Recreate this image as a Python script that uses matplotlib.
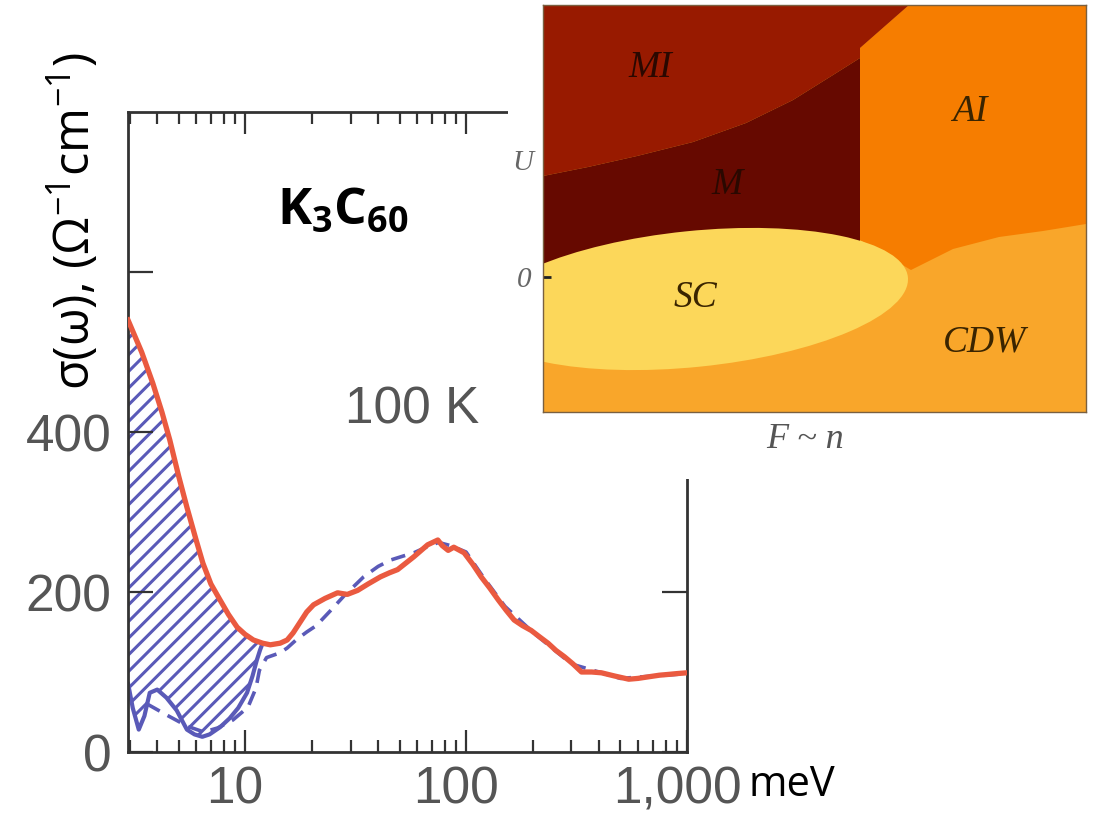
import numpy as np
import matplotlib
matplotlib.use('Agg')
import matplotlib.pyplot as plt
import matplotlib.transforms as mtransforms
from matplotlib.patches import Ellipse, Polygon
from matplotlib.ticker import FixedLocator, LogLocator, NullFormatter

# sigma(omega) at 100 K, red curve (meV, Ohm^-1 cm^-1)
red_x = [2.95, 3.4, 3.82, 4.2, 4.56, 5.0, 5.45, 6.0, 6.44, 7.0, 7.7, 8.4, 9.2, 10.0,
         10.9, 12.0, 13.0, 14.4, 15.5, 16.5, 17.8, 19.0, 20.4, 23.0, 26.2, 29.0, 32.3,
         36.0, 41.0, 45.0, 49.0, 58.0, 67.0, 74.5, 78.0, 83.0, 88.0, 98.0, 107.0, 117.0,
         128.0, 140.0, 152.0, 165.0, 180.0, 197.0, 215.0, 235.0, 255.0, 279.0, 305.0,
         333.0, 370.0, 410.0, 470.0, 545.0, 600.0, 670.0, 750.0, 825.0, 900.0, 1000.0]
red_y = [540, 500, 461, 425, 390, 345, 306, 265, 236, 210, 190, 172, 156, 147,
         140, 136, 134, 136, 140, 149, 163, 175, 184, 192, 199, 197, 202,
         210, 219, 224, 228, 244, 259, 265, 258, 252, 256, 249, 235, 219,
         205, 190, 177, 165, 158, 152, 144, 136, 127, 119, 110,
         100, 100, 99, 95, 91, 92, 94, 96, 97, 98, 99]

# blue dashed curve
dash_x = [3.6, 4.5, 5.5, 6.5, 7.5, 8.8, 10.3, 11.2, 11.6, 12.5, 14.4, 15.5, 17.0, 19.0,
          21.0, 24.4, 28.0, 34.4, 40.0, 45.6, 52.0, 58.0, 66.0, 75.0, 85.0, 100.0, 120.0,
          150.0, 200.0, 300.0, 500.0, 1000.0]
dash_y = [60, 45, 32, 25, 30, 40, 56, 80, 102, 118, 124, 130, 140, 150,
          158, 177, 195, 219, 232, 240, 245, 249, 256, 262, 258, 250, 218,
          182, 150, 110, 92, 98]

# blue solid curve (lower edge of the hatched weight)
blue_x = [2.95, 3.1, 3.3, 3.5, 3.7, 4.0, 4.4, 4.9, 5.45, 5.9, 6.4, 6.9, 7.7, 8.5,
          9.3, 10.2, 10.8, 11.3, 11.7, 12.0]
blue_y = [86, 55, 28, 45, 74, 78, 68, 52, 28, 22, 19, 22, 31, 42,
          55, 74, 95, 115, 128, 136]

x_major = [10, 100, 1000]
x_labels = ['10', '100', '1,000']
y_major = [0, 200, 400, 600]
y_labels = ['0', '200', '400', '']

# phase diagram (inset units: pixels of the inset box, origin bottom-left)
mi_x = [0, 366, 317, 317, 290, 250, 203, 150, 94, 45, 0]
mi_y = [407, 407, 364, 354, 337, 312, 289, 270, 256, 245, 236]
m_x = [0, 45, 94, 150, 203, 250, 290, 317, 317, 0]
m_y = [236, 245, 256, 270, 289, 312, 337, 354, 150, 130]
ai_x = [317, 366, 543, 543, 500, 456, 410, 368, 317]
ai_y = [364, 407, 407, 188, 181, 175, 163, 142, 172]
sc_center = (150, 113)
sc_width, sc_height, sc_angle = 432, 136, 5.8
phase_labels = ['MI', 'AI', 'M', 'SC', 'CDW']
phase_lx = [107, 427, 184, 152, 442]
phase_ly = [344, 300, 227, 114, 70]

W, H = 1093, 815
fig = plt.figure(figsize=(W / 100, H / 100), dpi=100)
plt.rcParams['hatch.linewidth'] = 2.2


def px_box(l, t, r, b):
    return [l / W, 1 - b / H, (r - l) / W, (b - t) / H]


RED = '#ea5a40'
BLUE = '#5a5ab8'
GRAY = '#555555'
SPINE = '#333333'

ax = fig.add_axes(px_box(128, 112, 687, 752))
ax.set_xscale('log')
ax.set_xlim(2.95, 1000)
ax.set_ylim(0, 800)

hx = [x for x in red_x if x <= 12.0] + blue_x[::-1]
hy = [y for x, y in zip(red_x, red_y) if x <= 12.0] + blue_y[::-1]
ax.fill(hx, hy, facecolor='white', edgecolor=BLUE, hatch='//', linewidth=0, zorder=1)
ax.plot(blue_x, blue_y, color=BLUE, lw=3, zorder=2, solid_capstyle='round')
ax.plot(dash_x, dash_y, color=BLUE, lw=2.6, ls=(0, (4, 2.5)), zorder=2)
ax.plot(red_x, red_y, color=RED, lw=3.8, zorder=3, solid_joinstyle='round')

ax.xaxis.set_major_locator(FixedLocator(x_major))
ax.set_xticklabels(x_labels)
ax.xaxis.set_minor_locator(LogLocator(base=10, subs=np.arange(2, 10)))
ax.xaxis.set_minor_formatter(NullFormatter())
ax.set_yticks(y_major)
ax.set_yticklabels(y_labels)

for s in ax.spines.values():
    s.set_linewidth(2)
    s.set_color(SPINE)
ax.tick_params(which='both', direction='in', top=True, right=True, color=SPINE,
               labelcolor=GRAY, labelsize=37, width=1.6)
ax.tick_params(axis='x', which='major', length=16, pad=10)
ax.tick_params(axis='x', which='minor', length=8.5)
ax.tick_params(axis='y', which='major', length=18, pad=12)
shift = mtransforms.ScaledTranslation(-0.10, 0, fig.dpi_scale_trans)
for lab in ax.get_xticklabels():
    lab.set_family('Liberation Sans')
    lab.set_transform(lab.get_transform() + shift)
for lab in ax.get_yticklabels():
    lab.set_family('Liberation Sans')

ax.text(0.508, 0.535, '100 K', transform=ax.transAxes, fontsize=37, color=GRAY,
        family='Liberation Sans', ha='center', va='center')

plt.rcParams['mathtext.fontset'] = 'custom'
plt.rcParams['mathtext.bf'] = 'Open Sans:bold'
plt.rcParams['mathtext.rm'] = 'Open Sans'
ax.text(0.385, 0.845, r'$\mathbf{K_3C_{60}}$', transform=ax.transAxes, fontsize=37,
        color='black', ha='center', va='center')

fig.text(74 / W, 1 - 390 / H, r'σ(ω), (Ω$^{-1}$cm$^{-1}$)', rotation=90,
         ha='center', va='bottom', fontsize=35, family='Open Sans', color='black')
fig.text(792 / W, 1 - 785 / H, 'meV', ha='center', va='center', fontsize=30,
         family='Open Sans', color='black')

# white area that holds the inset
cover = fig.add_axes(px_box(508, 0, W, 479))
cover.set_facecolor('white')
cover.set_xticks([])
cover.set_yticks([])
for s in cover.spines.values():
    s.set_visible(False)
cover.set_zorder(2)

pax = fig.add_axes(px_box(543, 5, 1086, 412))
pax.set_zorder(3)
pax.set_xlim(0, 543)
pax.set_ylim(0, 407)
pax.set_facecolor('#f9a62a')
pax.add_patch(Polygon(np.column_stack([ai_x, ai_y]), closed=True, fc='#f67d00', ec='none'))
pax.add_patch(Polygon(np.column_stack([mi_x, mi_y]), closed=True, fc='#981a00', ec='none'))
pax.add_patch(Polygon(np.column_stack([m_x, m_y]), closed=True, fc='#660900', ec='none'))
pax.add_patch(Ellipse(sc_center, sc_width, sc_height, angle=sc_angle, fc='#fcd75a', ec='none'))
for lab, lx, ly in zip(phase_labels, phase_lx, phase_ly):
    col = '#2a0800' if lab in ('MI', 'M') else '#3a2400'
    pax.text(lx, ly, lab, ha='center', va='center', fontsize=27, style='italic',
             family='Liberation Serif', color=col)
pax.set_xticks([])
pax.set_yticks([135])
pax.set_yticklabels(['0'])
pax.tick_params(axis='y', direction='in', length=6, width=2, color='#222222',
                labelsize=21, labelcolor='#666666', pad=8)
for lab in pax.get_yticklabels():
    lab.set_family('Liberation Serif')
    lab.set_style('italic')
for s in pax.spines.values():
    s.set_color('#7a6040')
    s.set_linewidth(1)
pax.text(-20, 249, 'U', ha='center', va='center', fontsize=21, style='italic',
         family='Liberation Serif', color='#666666')
fig.text(805 / W, 1 - 440 / H, 'F ~ n', ha='center', va='center', fontsize=26,
         style='italic', family='Liberation Serif', color='#555555')

fig.savefig('out.png', dpi=100)
